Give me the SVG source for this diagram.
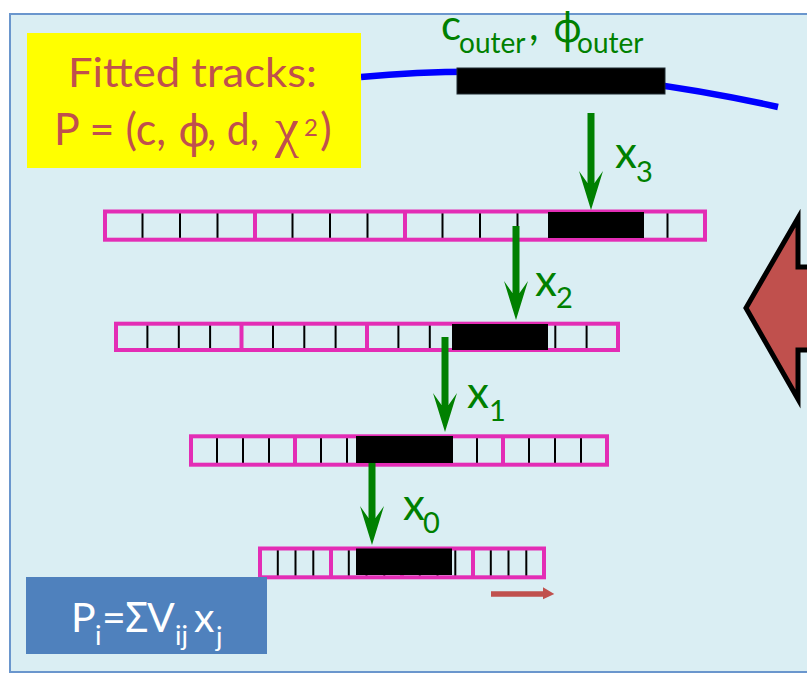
<svg xmlns="http://www.w3.org/2000/svg" width="807" height="673" viewBox="0 0 807 673">
  <style>
    .txt { font-family: Lato, "Noto Sans", "DejaVu Sans", sans-serif; }
    .grk { font-family: "Noto Sans", "DejaVu Sans", sans-serif; }
    .chi { font-family: "Liberation Serif", "DejaVu Serif", serif; }
    .red { fill: #C0504D; }
    .grn { fill: #008000; }
    .wht { fill: #FFFFFF; }
    .frame { fill: none; stroke: #E32DB5; stroke-width: 4; }
    .seg { stroke: #E32DB5; stroke-width: 4; }
    .cell { stroke: #000000; stroke-width: 2; }
    .hit { fill: #000000; }
    .shaft { stroke: #008000; stroke-width: 7; fill: none; }
  </style>
  <defs>
    <!-- concave green arrowhead, tip at origin pointing down -->
    <path id="head" d="M0,0 L-12,-39 L-3.5,-27 L3.5,-27 L12,-39 Z" fill="#008000"/>
  </defs>

  <!-- panel -->
  <rect id="panel" x="10" y="14" width="820" height="658" fill="#DAEEF3" stroke="#6A96CD" stroke-width="2"/>

  <!-- fitted track through the outer layer -->
  <g id="track">
    <path d="M361,77 Q560,58 778,107" fill="none" stroke="#0000FF" stroke-width="6.5"/>
    <rect x="457" y="68" width="208" height="26" fill="#000000" stroke="#1F2A30" stroke-width="1"/>
  </g>

  <!-- label box -->
  <g id="fitted" class="txt red">
    <rect x="27" y="33" width="334" height="135" fill="#FFFF00"/>
    <text x="68" y="87" font-size="41" textLength="249" lengthAdjust="spacingAndGlyphs">Fitted tracks:</text>
    <text x="54" y="145" font-size="44" textLength="112" lengthAdjust="spacingAndGlyphs">P = (c,</text>
    <text class="grk" x="178" y="146" font-size="44">ϕ</text>
    <text x="207" y="145" font-size="44" textLength="52" lengthAdjust="spacingAndGlyphs">, d,</text>
    <text class="chi" x="275" y="146" font-size="54">χ</text>
    <text x="304" y="136" font-size="24">2</text>
    <text x="320" y="145" font-size="44">)</text>
  </g>

  <g id="outer-label" class="txt grn">
    <text x="441" y="40" font-size="42">c</text>
    <text x="459" y="53" font-size="28">outer</text>
    <text x="529" y="40" font-size="42">,</text>
    <text class="grk" x="553" y="42" font-size="40">ϕ</text>
    <text x="577" y="53" font-size="28">outer</text>
  </g>

  <!-- layer 3 -->
  <g id="layer3">
    <g class="cell">
      <line x1="142.5" y1="213" x2="142.5" y2="238"/><line x1="180" y1="213" x2="180" y2="238"/><line x1="217.5" y1="213" x2="217.5" y2="238"/>
      <line x1="292.5" y1="213" x2="292.5" y2="238"/><line x1="330" y1="213" x2="330" y2="238"/><line x1="367.5" y1="213" x2="367.5" y2="238"/>
      <line x1="442.5" y1="213" x2="442.5" y2="238"/><line x1="480" y1="213" x2="480" y2="238"/><line x1="517.5" y1="213" x2="517.5" y2="238"/>
      <line x1="592.5" y1="213" x2="592.5" y2="238"/><line x1="630" y1="213" x2="630" y2="238"/><line x1="667.5" y1="213" x2="667.5" y2="238"/>
    </g>
    <g class="seg">
      <line x1="255" y1="211.5" x2="255" y2="239.7"/><line x1="405" y1="211.5" x2="405" y2="239.7"/><line x1="555" y1="211.5" x2="555" y2="239.7"/>
    </g>
    <rect class="frame" x="105" y="211.5" width="600" height="28.2"/>
    <rect class="hit" x="548" y="212" width="96" height="26"/>
  </g>

  <!-- layer 2 -->
  <g id="layer2">
    <g class="cell">
      <line x1="147.4" y1="325" x2="147.4" y2="349"/><line x1="178.8" y1="325" x2="178.8" y2="349"/><line x1="210.1" y1="325" x2="210.1" y2="349"/>
      <line x1="273" y1="325" x2="273" y2="349"/><line x1="304.3" y1="325" x2="304.3" y2="349"/><line x1="335.6" y1="325" x2="335.6" y2="349"/>
      <line x1="398.4" y1="325" x2="398.4" y2="349"/><line x1="429.8" y1="325" x2="429.8" y2="349"/><line x1="461.1" y1="325" x2="461.1" y2="349"/>
      <line x1="524" y1="325" x2="524" y2="349"/><line x1="555.3" y1="325" x2="555.3" y2="349"/><line x1="586.6" y1="325" x2="586.6" y2="349"/>
    </g>
    <g class="seg">
      <line x1="241.5" y1="323.7" x2="241.5" y2="350"/><line x1="367" y1="323.7" x2="367" y2="350"/><line x1="492.5" y1="323.7" x2="492.5" y2="350"/>
    </g>
    <rect class="frame" x="116" y="323.7" width="502" height="26.3"/>
    <rect class="hit" x="452" y="324" width="96" height="26"/>
  </g>

  <!-- layer 1 -->
  <g id="layer1">
    <g class="cell">
      <line x1="217" y1="438" x2="217" y2="463"/><line x1="243" y1="438" x2="243" y2="463"/><line x1="269" y1="438" x2="269" y2="463"/>
      <line x1="321" y1="438" x2="321" y2="463"/><line x1="347" y1="438" x2="347" y2="463"/><line x1="373" y1="438" x2="373" y2="463"/>
      <line x1="425" y1="438" x2="425" y2="463"/><line x1="451" y1="438" x2="451" y2="463"/><line x1="477" y1="438" x2="477" y2="463"/>
      <line x1="529" y1="438" x2="529" y2="463"/><line x1="555" y1="438" x2="555" y2="463"/><line x1="581" y1="438" x2="581" y2="463"/>
    </g>
    <g class="seg">
      <line x1="295" y1="436.3" x2="295" y2="464.7"/><line x1="399" y1="436.3" x2="399" y2="464.7"/><line x1="503" y1="436.3" x2="503" y2="464.7"/>
    </g>
    <rect class="frame" x="191" y="436.3" width="416" height="28.4"/>
    <rect class="hit" x="356" y="436" width="97" height="27"/>
  </g>

  <!-- layer 0 -->
  <g id="layer0">
    <g class="cell">
      <line x1="277.8" y1="550" x2="277.8" y2="576"/><line x1="295.5" y1="550" x2="295.5" y2="576"/><line x1="313.3" y1="550" x2="313.3" y2="576"/>
      <line x1="348.8" y1="550" x2="348.8" y2="576"/><line x1="366.5" y1="550" x2="366.5" y2="576"/><line x1="384.3" y1="550" x2="384.3" y2="576"/>
      <line x1="419.8" y1="550" x2="419.8" y2="576"/><line x1="437.5" y1="550" x2="437.5" y2="576"/><line x1="455.3" y1="550" x2="455.3" y2="576"/>
      <line x1="490.8" y1="550" x2="490.8" y2="576"/><line x1="508.5" y1="550" x2="508.5" y2="576"/><line x1="526.3" y1="550" x2="526.3" y2="576"/>
    </g>
    <g class="seg">
      <line x1="331" y1="548.5" x2="331" y2="577.3"/><line x1="402" y1="548.5" x2="402" y2="577.3"/><line x1="473" y1="548.5" x2="473" y2="577.3"/>
    </g>
    <rect class="frame" x="260" y="548.5" width="284" height="28.8"/>
    <rect class="hit" x="356" y="548.5" width="96" height="26.5"/>
  </g>

  <!-- connectors -->
  <g id="connectors">
    <line class="shaft" x1="591" y1="113" x2="591" y2="184"/>
    <use href="#head" transform="translate(591,210)"/>
    <line class="shaft" x1="516" y1="226" x2="516" y2="294"/>
    <use href="#head" transform="translate(516,320)"/>
    <line class="shaft" x1="445" y1="337" x2="445" y2="406"/>
    <use href="#head" transform="translate(445,432)"/>
    <line class="shaft" x1="372" y1="463" x2="372" y2="519"/>
    <use href="#head" transform="translate(372,545)"/>
  </g>

  <g id="step-labels" class="txt grn">
    <text y="168" font-size="44"><tspan x="615">x</tspan><tspan x="636" y="182" font-size="29">3</tspan></text>
    <text y="296" font-size="44"><tspan x="535">x</tspan><tspan x="556" y="308" font-size="29">2</tspan></text>
    <text y="408" font-size="44"><tspan x="467">x</tspan><tspan x="489" y="421" font-size="29">1</tspan></text>
    <text y="520" font-size="44"><tspan x="403">x</tspan><tspan x="423" y="533" font-size="29">0</tspan></text>
  </g>

  <!-- small direction arrow -->
  <g id="direction">
    <path d="M491,591.3 L543,591.3 L543,587.3 L554.3,594 L543,599.3 L543,596.7 L491,596.7 Z" fill="#C0504D"/>
  </g>

  <!-- block arrow at the right edge -->
  <g id="big-arrow">
    <path d="M798,218 L746,308 L798,399 L798,350 L830,350 L830,267 L798,267 Z" fill="#C0504D" stroke="#000000" stroke-width="5" stroke-linejoin="miter"/>
  </g>

  <!-- sum formula -->
  <g id="formula">
    <rect x="26" y="577" width="241" height="77" fill="#4F81BD"/>
    <text class="txt wht" y="632" font-size="41">
      <tspan x="71">P</tspan>
      <tspan x="95" y="645" font-size="27">i</tspan>
      <tspan x="102" y="632">=</tspan>
      <tspan class="grk" x="125">Σ</tspan>
      <tspan x="147">V</tspan>
      <tspan x="175" y="645" font-size="27">ij</tspan>
      <tspan x="194" y="632">x</tspan>
      <tspan x="216" y="646" font-size="27">j</tspan>
    </text>
  </g>
</svg>
